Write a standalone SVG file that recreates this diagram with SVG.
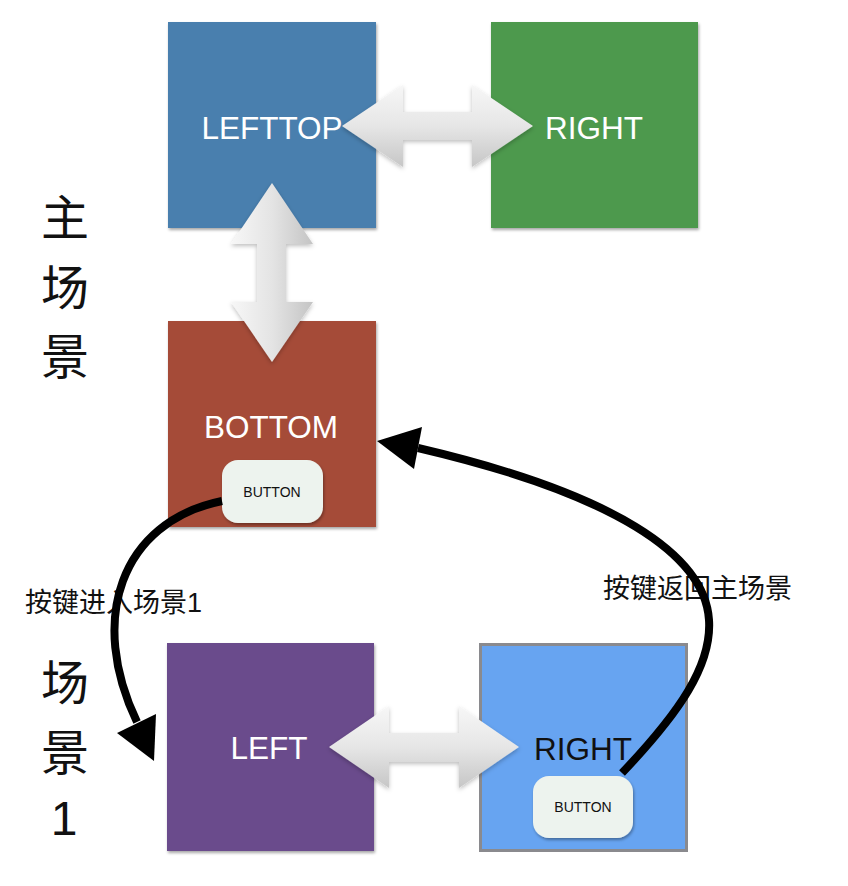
<svg xmlns="http://www.w3.org/2000/svg" width="848" height="886" viewBox="0 0 848 886">
  <style>
    .box-label { font-family: "Liberation Sans", Arial, sans-serif; font-size: 31.5px; text-anchor: middle; }
    .white { fill: #ffffff; }
    .black { fill: #111111; }
    .btn { fill: #edf3ee; }
    .btn-label { font-family: "Liberation Sans", Arial, sans-serif; font-size: 14px; text-anchor: middle; fill: #111111; }
    .cjk { font-family: "Liberation Sans", "Noto Sans CJK SC", sans-serif; fill: #111111; }
    .big { font-size: 48px; text-anchor: middle; }
    .lbl { font-size: 27px; }
    .curve { fill: none; stroke: #000000; stroke-width: 8; }
    .head { fill: #000000; }
  </style>
  <defs>
    <filter id="shadow" x="-10%" y="-10%" width="125%" height="125%">
      <feDropShadow dx="1" dy="2" stdDeviation="1.5" flood-color="#000" flood-opacity="0.35"/>
    </filter>
    <filter id="ashadow" x="-20%" y="-20%" width="140%" height="140%">
      <feDropShadow dx="0" dy="2" stdDeviation="2" flood-color="#000" flood-opacity="0.25"/>
    </filter>
    <linearGradient id="gh" x1="0" y1="0" x2="0" y2="1">
      <stop offset="0" stop-color="#f7f7f7"/>
      <stop offset="0.5" stop-color="#e6e6e6"/>
      <stop offset="1" stop-color="#c6c6c6"/>
    </linearGradient>
    <linearGradient id="gv" x1="0" y1="0" x2="1" y2="0">
      <stop offset="0" stop-color="#f7f7f7"/>
      <stop offset="0.5" stop-color="#e4e4e4"/>
      <stop offset="1" stop-color="#c4c4c4"/>
    </linearGradient>
  </defs>

  <rect width="848" height="886" fill="#ffffff"/>

  <g id="title-main">
    <text class="cjk big" x="65" y="235">主</text>
    <text class="cjk big" x="65" y="305">场</text>
    <text class="cjk big" x="65" y="374">景</text>
  </g>
  <g id="title-scene1">
    <text class="cjk big" x="65" y="700">场</text>
    <text class="cjk big" x="65" y="770">景</text>
    <text class="cjk big" x="64" y="835">1</text>
  </g>

  <g id="lefttop">
    <rect x="168" y="22" width="208" height="206" fill="#4a7fae" filter="url(#shadow)"/>
    <text class="box-label white" x="272" y="139">LEFTTOP</text>
  </g>
  <g id="right-top">
    <rect x="491" y="22" width="207" height="206" fill="#4e994d" filter="url(#shadow)"/>
    <text class="box-label white" x="594" y="139">RIGHT</text>
  </g>
  <g id="bottom">
    <rect x="168" y="321" width="208" height="206" fill="#a54c38" filter="url(#shadow)"/>
    <text class="box-label white" x="271" y="438">BOTTOM</text>
    <rect class="btn" x="222" y="460" width="101" height="63" rx="16" filter="url(#shadow)"/>
    <text class="btn-label" x="272" y="497">BUTTON</text>
  </g>
  <g id="left">
    <rect x="167" y="643" width="207" height="208" fill="#6b4b8c" filter="url(#shadow)"/>
    <text class="box-label white" x="269" y="759">LEFT</text>
  </g>
  <g id="right-scene1">
    <rect x="480.5" y="644.5" width="206" height="206" fill="#67a4f1" stroke="#8a8a8e" stroke-width="3"/>
    <text class="box-label black" x="583" y="760">RIGHT</text>
    <rect class="btn" x="533" y="776" width="100" height="62" rx="16" filter="url(#shadow)"/>
    <text class="btn-label" x="583" y="812">BUTTON</text>
  </g>

  <g id="labels">
    <text class="cjk lbl" x="25" y="612">按键进入场景1</text>
    <text class="cjk lbl" x="603" y="598">按键返回主场景</text>
  </g>

  <g id="connectors">
    <polygon fill="url(#gh)" filter="url(#ashadow)" points="342,126 403,85 403,112 472,112 472,85 533,126 472,167 472,140 403,140 403,167"/>
    <polygon fill="url(#gv)" filter="url(#ashadow)" points="272,183 313,244 286,244 286,302 313,302 272,362 231,302 257,302 257,244 231,244"/>
    <polygon fill="url(#gh)" filter="url(#ashadow)" points="329,747 389,706 389,733 459,733 459,706 519,747 459,788 459,762 389,762 389,788"/>

    <path class="curve" d="M222 501 C120 522, 88 620, 137 722"/>
    <polygon class="head" points="154,761 117,733 156,714"/>

    <path class="curve" d="M622 773 C680 712, 712 665, 709 620 C705 555, 615 494, 418 448"/>
    <polygon class="head" points="377,441 422,427 414,469"/>
  </g>
</svg>
